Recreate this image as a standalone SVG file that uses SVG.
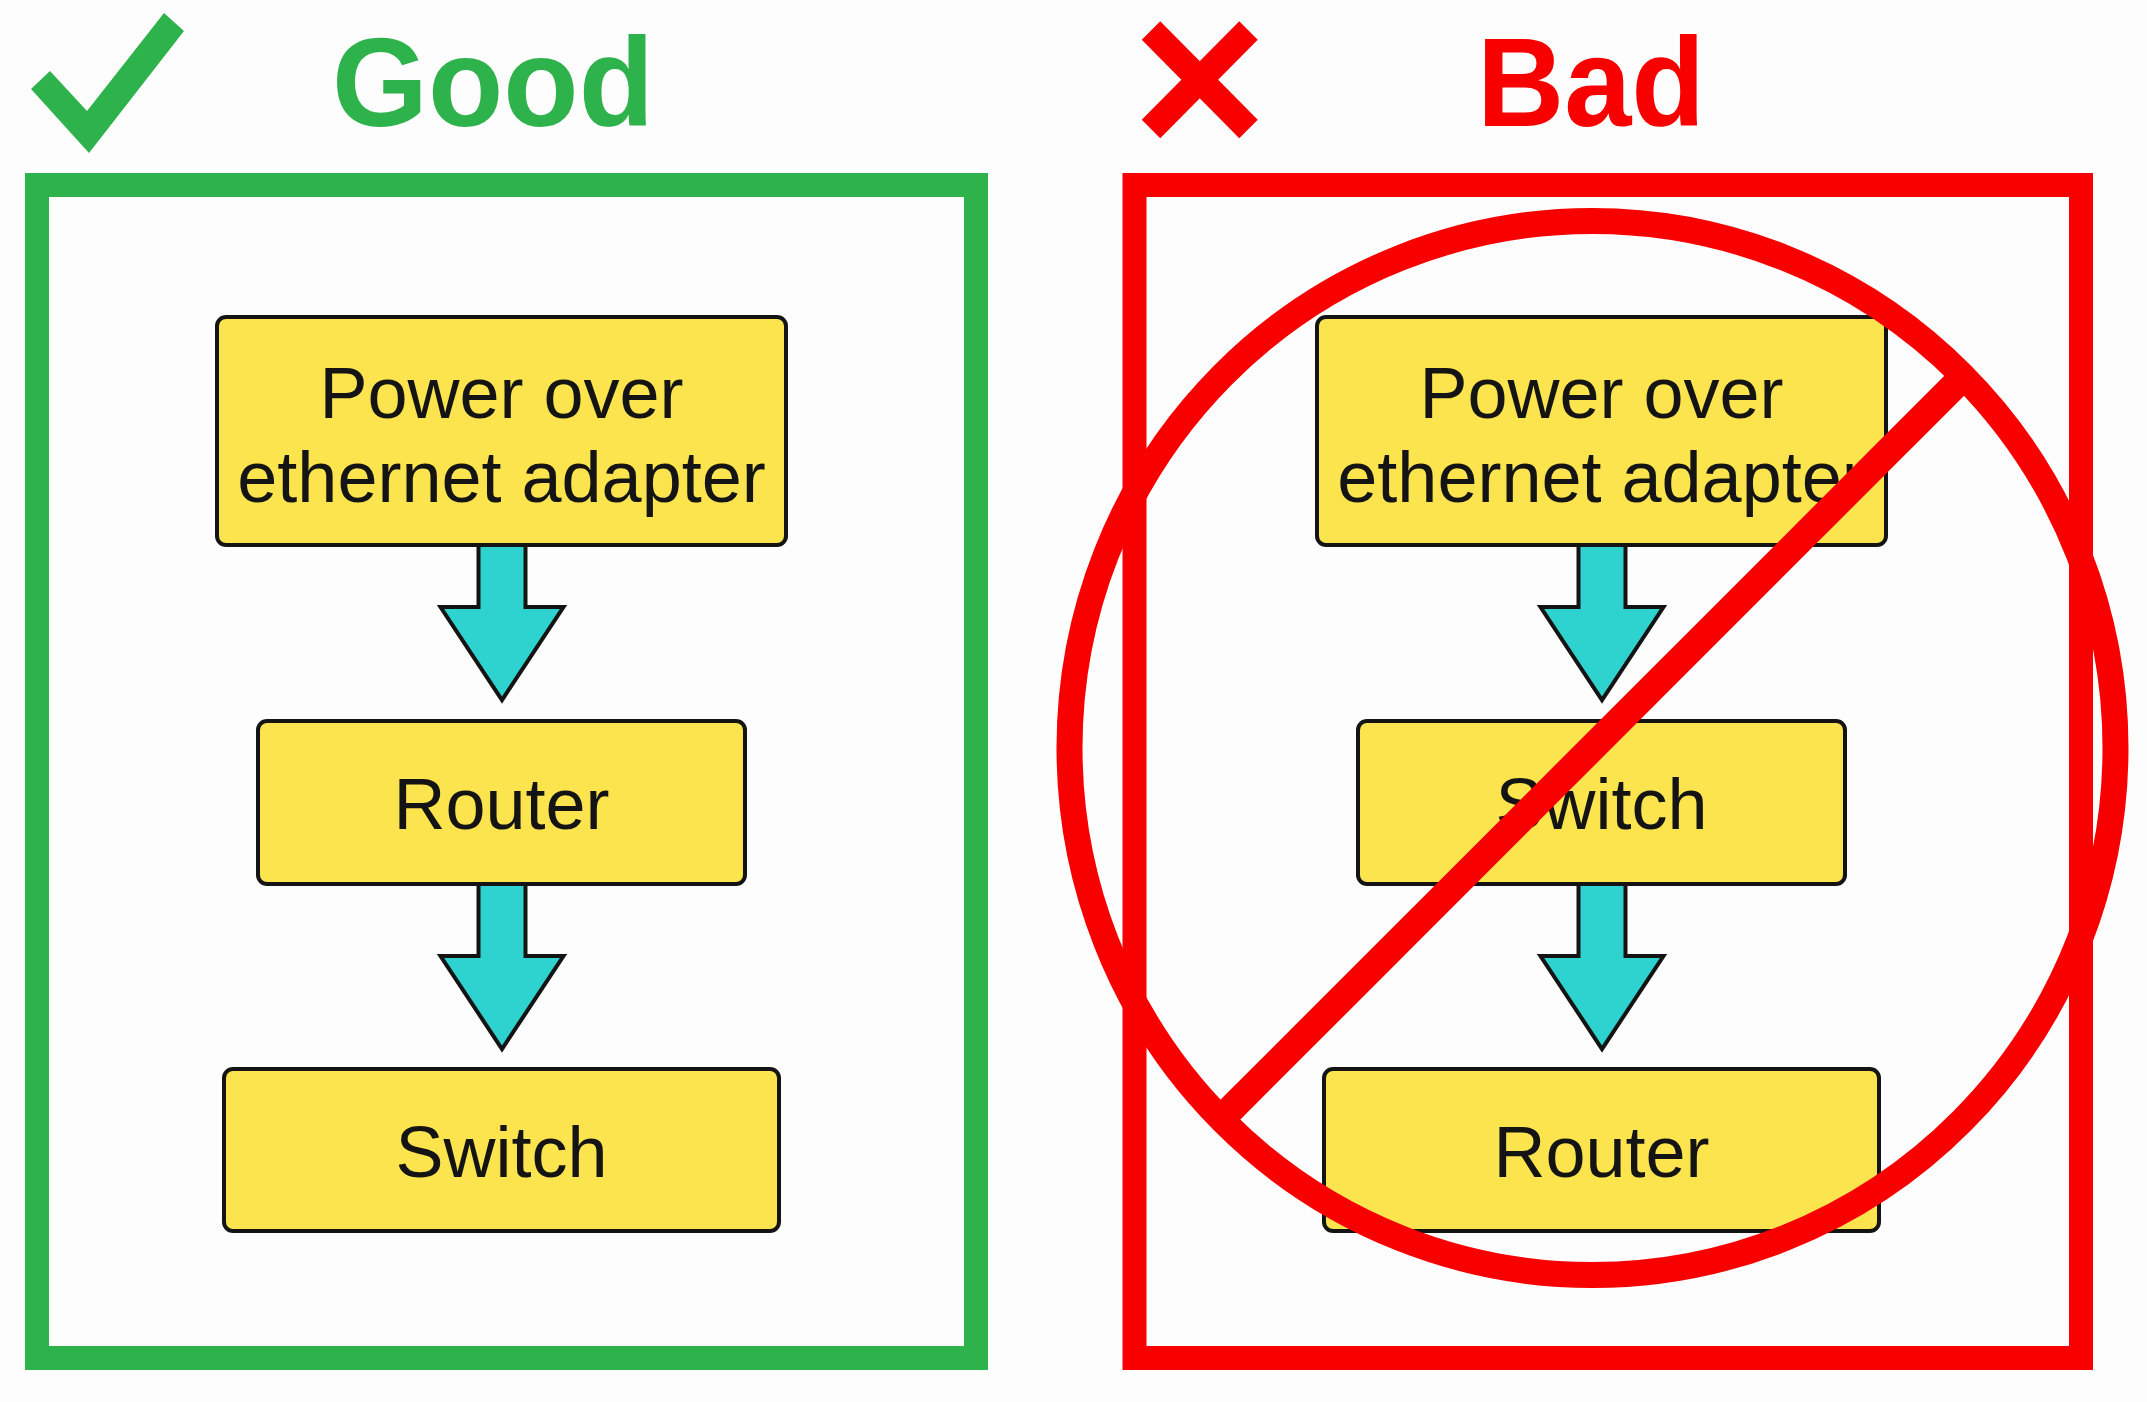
<svg xmlns="http://www.w3.org/2000/svg" width="2147" height="1402" viewBox="0 0 2147 1402">
  <style>
    .box { fill: #FCE44E; stroke: #141414; stroke-width: 4; }
    .lbl { font-family: "Liberation Sans", Arial, sans-serif; font-size: 72px; fill: #141414; text-anchor: middle; }
    .arrow { fill: #2ED3D0; stroke: #141414; stroke-width: 4; stroke-linejoin: miter; }
    .title { font-family: "Liberation Sans", Arial, sans-serif; font-weight: bold; font-size: 126px; }
    .green { fill: #2EB24B; }
    .red { fill: #F80000; }
    .gframe { fill: none; stroke: #2EB24B; stroke-width: 24; }
    .rframe { fill: none; stroke: #F80000; stroke-width: 24; }
    .ban { fill: none; stroke: #F80000; stroke-width: 26; }
  </style>
  <rect x="0" y="0" width="2147" height="1402" fill="#FDFDFD"/>

  <!-- Headers -->
  <g id="good-header">
    <polygon class="green" points="31,89 50,71 87,111 164,13 184,31 89,153"/>
    <text class="title green" x="332" y="126" textLength="322" lengthAdjust="spacingAndGlyphs">Good</text>
  </g>
  <g id="bad-header">
    <g stroke="#F80000" stroke-width="26" stroke-linecap="butt">
      <line x1="1151" y1="30.5" x2="1248.5" y2="129"/>
      <line x1="1248.5" y1="30.5" x2="1151" y2="129"/>
    </g>
    <text class="title red" x="1477" y="126" textLength="228" lengthAdjust="spacingAndGlyphs">Bad</text>
  </g>

  <!-- Panels -->
  <rect id="good-panel" class="gframe" x="37" y="185" width="939" height="1173"/>
  <rect id="bad-panel" class="rframe" x="1134.5" y="185" width="946.5" height="1173"/>

  <!-- Connectors -->
  <g id="connectors">
    <path class="arrow" d="M478.5 540 L478.5 607 L440.5 607 L502 700 L563.5 607 L525.5 607 L525.5 540 Z"/>
    <path class="arrow" d="M478.5 880 L478.5 956 L440.5 956 L502 1049 L563.5 956 L525.5 956 L525.5 880 Z"/>
    <path class="arrow" d="M1578.5 540 L1578.5 607 L1540.5 607 L1602 700 L1663.5 607 L1625.5 607 L1625.5 540 Z"/>
    <path class="arrow" d="M1578.5 880 L1578.5 956 L1540.5 956 L1602 1049 L1663.5 956 L1625.5 956 L1625.5 880 Z"/>
  </g>

  <!-- Good nodes -->
  <g id="good-poe">
    <rect class="box" x="217" y="317" width="569" height="228" rx="9"/>
    <text class="lbl" x="501.5" y="418">Power over</text>
    <text class="lbl" x="501.5" y="502">ethernet adapter</text>
  </g>
  <g id="good-router">
    <rect class="box" x="258" y="721" width="487" height="163" rx="9"/>
    <text class="lbl" x="501.5" y="829">Router</text>
  </g>
  <g id="good-switch">
    <rect class="box" x="224" y="1069" width="555" height="162" rx="9"/>
    <text class="lbl" x="501.5" y="1177">Switch</text>
  </g>

  <!-- Bad nodes -->
  <g id="bad-poe">
    <rect class="box" x="1317" y="317" width="569" height="228" rx="9"/>
    <text class="lbl" x="1601.5" y="418">Power over</text>
    <text class="lbl" x="1601.5" y="502">ethernet adapter</text>
  </g>
  <g id="bad-switch">
    <rect class="box" x="1358" y="721" width="487" height="163" rx="9"/>
    <text class="lbl" x="1601.5" y="829">Switch</text>
  </g>
  <g id="bad-router">
    <rect class="box" x="1324" y="1069" width="555" height="162" rx="9"/>
    <text class="lbl" x="1601.5" y="1177">Router</text>
  </g>

  <!-- Prohibition sign -->
  <g id="no-sign">
    <ellipse class="ban" cx="1592.5" cy="748" rx="523" ry="527"/>
    <line class="ban" style="stroke-width:28" x1="1962" y1="378" x2="1222" y2="1118"/>
  </g>
</svg>
